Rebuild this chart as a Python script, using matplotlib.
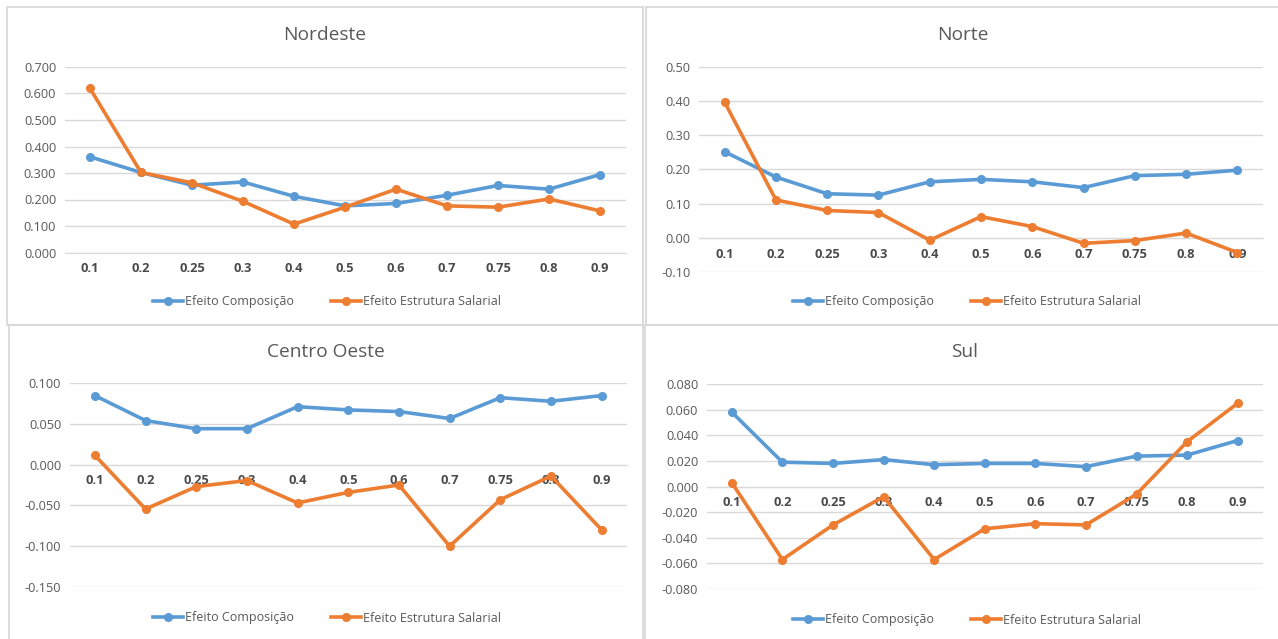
import matplotlib
matplotlib.use('Agg')
import matplotlib.pyplot as plt
from matplotlib.patches import Rectangle
from matplotlib.ticker import FormatStrFormatter

plt.rcParams['font.family'] = ['Open Sans', 'DejaVu Sans']

# quantis
quantis = ['0.1', '0.2', '0.25', '0.3', '0.4', '0.5', '0.6', '0.7', '0.75', '0.8', '0.9']

# Nordeste
ne_comp = [0.361, 0.302, 0.254, 0.266, 0.212, 0.176, 0.185, 0.216, 0.253, 0.239, 0.294]
ne_estr = [0.619, 0.302, 0.263, 0.193, 0.107, 0.171, 0.239, 0.176, 0.171, 0.202, 0.157]

# Norte
n_comp = [0.252, 0.178, 0.129, 0.125, 0.164, 0.171, 0.164, 0.147, 0.182, 0.186, 0.198]
n_estr = [0.397, 0.111, 0.080, 0.074, -0.007, 0.062, 0.033, -0.016, -0.008, 0.014, -0.043]

# Centro Oeste
co_comp = [0.0846, 0.054, 0.044, 0.044, 0.071, 0.067, 0.065, 0.0565, 0.082, 0.0776, 0.0846]
co_estr = [0.0114, -0.0545, -0.027, -0.0195, -0.047, -0.034, -0.025, -0.100, -0.043, -0.014, -0.080]

# Sul
s_comp = [0.058, 0.019, 0.018, 0.021, 0.017, 0.018, 0.018, 0.0155, 0.0237, 0.0245, 0.0359]
s_estr = [0.003, -0.057, -0.030, -0.008, -0.057, -0.033, -0.029, -0.030, -0.006, 0.035, 0.065]

AZUL = '#5B9BD5'
LARANJA = '#ED7D31'
CINZA = '#595959'
GRADE = '#D9D9D9'

W, H = 1278, 639
fig = plt.figure(figsize=(W / 100, H / 100), dpi=100)


def px(x0, y0, x1, y1):
    # converte caixa em pixels (origem no topo) para coordenadas da figura
    return [x0 / W, 1 - y1 / H, (x1 - x0) / W, (y1 - y0) / H]


# molduras dos graficos
for (x0, y0, x1, y1) in [(7, 7, 643, 325), (646, 7, 1290, 325),
                         (9, 325, 643, 650), (645, 325, 1290, 650)]:
    fig.patches.append(Rectangle((x0 / W, 1 - y1 / H), (x1 - x0) / W, (y1 - y0) / H,
                                 transform=fig.transFigure, fill=False,
                                 edgecolor='#D9D9D9', linewidth=1.3))

paineis = [
    ('Nordeste', ne_comp, ne_estr, (64.5, 67, 625.5, 252.5), (0.0, 0.7, 0.1), '%.3f',
     (325, 35), (327, 302)),
    ('Norte', n_comp, n_estr, (699, 67, 1263, 272), (-0.1, 0.5, 0.1), '%.2f',
     (963, 35), (967, 302)),
    ('Centro Oeste', co_comp, co_estr, (69.5, 383, 627, 587), (-0.15, 0.1, 0.05), '%.3f',
     (326, 352), (327, 618)),
    ('Sul', s_comp, s_estr, (706.5, 384, 1263, 589), (-0.08, 0.08, 0.02), '%.3f',
     (965, 352), (967, 620)),
]

x = range(len(quantis))
for titulo, comp, estr, caixa, (y0, y1, passo), fmt, tpos, lpos in paineis:
    ax = fig.add_axes(px(*caixa))
    ax.plot(x, comp, color=AZUL, lw=2.6, marker='o', ms=5.5, zorder=3,
            label='Efeito Composição')
    ax.plot(x, estr, color=LARANJA, lw=2.6, marker='o', ms=5.5, zorder=4,
            label='Efeito Estrutura Salarial')

    # eixo horizontal passando pelo zero (antes dos rotulos: set_position refaz os ticks)
    for lado in ['top', 'right', 'left']:
        ax.spines[lado].set_visible(False)
    ax.spines['bottom'].set_position(('data', 0))
    ax.spines['bottom'].set_color(GRADE)

    n = int(round((y1 - y0) / passo))
    ax.set_yticks([y0 + i * passo for i in range(n + 1)])
    ax.set_ylim(y0, y1)
    ax.set_xlim(-0.5, len(quantis) - 0.5)
    ax.yaxis.set_major_formatter(FormatStrFormatter(fmt))
    ax.set_xticks(list(x))
    ax.set_xticklabels(quantis)
    for rot in ax.get_xticklabels():
        rot.set_fontweight('bold')

    ax.grid(axis='y', color=GRADE, lw=1.0)
    ax.set_axisbelow(True)
    ax.tick_params(axis='x', length=0, pad=7, labelsize=9.3, labelcolor='#4A4A4A')
    ax.tick_params(axis='y', length=0, pad=6, labelsize=9.2, labelcolor=CINZA)

    fig.text(tpos[0] / W, 1 - tpos[1] / H, titulo, ha='center', va='center',
             fontsize=13.8, color=CINZA)
    ax.legend(loc='center', bbox_to_anchor=(lpos[0] / W, 1 - lpos[1] / H),
              bbox_transform=fig.transFigure, ncol=2, frameon=False,
              fontsize=9, labelcolor=CINZA, handlelength=2.4,
              handletextpad=0.15, columnspacing=3.0)

fig.savefig('out.png', dpi=100, facecolor='white')
